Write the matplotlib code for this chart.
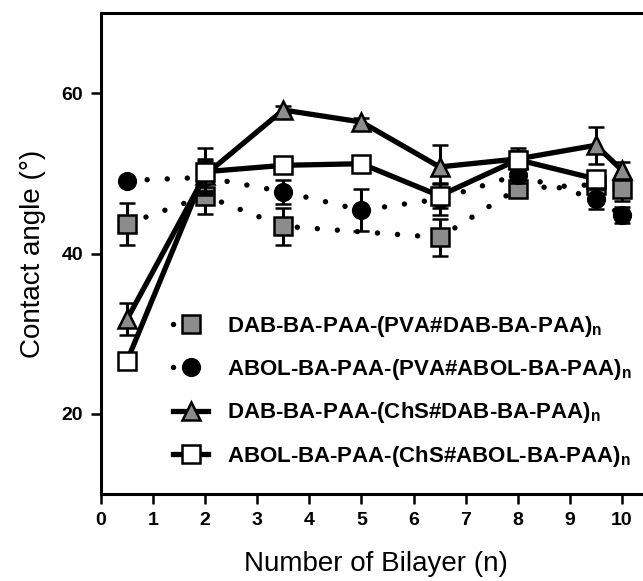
import matplotlib
matplotlib.use('Agg')
import matplotlib.pyplot as plt
from matplotlib.lines import Line2D

# ---- data ----
dab_pva_x = [0.5, 2, 3.5, 6.5, 8, 9.5, 10]
dab_pva_y = [43.7, 47.2, 43.4, 42.0, 48.1, 48.6, 48.0]
dab_pva_err = [2.6, 2.3, 2.3, 2.3, 1.0, 1.0, 1.5]

abol_pva_x = [0.5, 2, 3.5, 5, 6.5, 8, 9.5, 10]
abol_pva_y = [49.1, 49.5, 47.7, 45.4, 46.8, 49.8, 46.8, 44.8]
abol_pva_err = [0.0, 2.0, 1.5, 2.6, 2.0, 1.0, 1.2, 1.0]

dab_chs_x = [0.5, 2, 3.5, 5, 6.5, 8, 9.5, 10]
dab_chs_y = [31.8, 49.8, 57.9, 56.4, 50.8, 51.8, 53.5, 50.4]
dab_chs_err = [2.0, 2.0, 0.5, 0.5, 2.7, 1.0, 2.3, 1.0]

abol_chs_x = [0.5, 2, 3.5, 5, 6.5, 8, 9.5]
abol_chs_y = [26.6, 50.2, 51.0, 51.2, 47.2, 51.7, 49.3]
abol_chs_err = [0.0, 2.9, 1.0, 0.5, 1.5, 1.5, 1.0]

labels = [r'DAB-BA-PAA-(PVA#DAB-BA-PAA)$_\mathregular{n}$',
          r'ABOL-BA-PAA-(PVA#ABOL-BA-PAA)$_\mathregular{n}$',
          r'DAB-BA-PAA-(ChS#DAB-BA-PAA)$_\mathregular{n}$',
          r'ABOL-BA-PAA-(ChS#ABOL-BA-PAA)$_\mathregular{n}$']
xticks = list(range(0, 11))
yticks = [20, 40, 60]

plt.rcParams['font.family'] = ['Liberation Sans', 'DejaVu Sans']
plt.rcParams['mathtext.fontset'] = 'custom'
plt.rcParams['mathtext.rm'] = 'Liberation Sans:bold'

fig = plt.figure(figsize=(6.43, 5.81), dpi=100)
ax = fig.add_axes([101/643, 87/581, 573/643, 481/581])

dot_style = (0, (0.01, 3.7))
gray = '#8c8c8c'
mk = dict(mec='black', mew=1.8)
eb = dict(elinewidth=2.2, capsize=6, capthick=2.2)

# gray squares, dotted
ax.errorbar(dab_pva_x, dab_pva_y, yerr=dab_pva_err, fmt='s', color='black',
            mfc=gray, ms=12.5, zorder=3, **mk, **eb)
ax.plot(dab_pva_x, dab_pva_y, color='black', lw=3.9, linestyle=dot_style,
        dash_capstyle='round', zorder=2.5)

# black circles, dotted
ax.errorbar(abol_pva_x, abol_pva_y, yerr=abol_pva_err, fmt='o', color='black',
            mfc='black', ms=12, zorder=4, **mk, **eb)
ax.plot(abol_pva_x, abol_pva_y, color='black', lw=3.9, linestyle=dot_style,
        dash_capstyle='round', zorder=3.5)

# gray triangles, solid
ax.errorbar(dab_chs_x, dab_chs_y, yerr=dab_chs_err, fmt='^-', color='black',
            mfc=gray, ms=13, lw=3.8, zorder=5, **mk, **eb)

# white squares, solid
ax.errorbar(abol_chs_x, abol_chs_y, yerr=abol_chs_err, fmt='s-', color='black',
            mfc='white', ms=12.5, lw=3.8, zorder=6, **mk, **eb)

ax.set_xlim(0, 11)
ax.set_ylim(10, 70)
ax.set_xticks(xticks)
ax.set_yticks(yticks)
ax.set_xticklabels([str(t) for t in xticks], fontweight='bold', fontsize=14)
ax.set_yticklabels([str(t) for t in yticks], fontweight='bold', fontsize=14)
ax.tick_params(direction='out', length=7, width=1.8, pad=6)

for s in ['left', 'bottom', 'top']:
    ax.spines[s].set_linewidth(2.2)
ax.spines['right'].set_visible(False)

ax.set_xlabel('Number of Bilayer (n)', fontsize=20)
ax.xaxis.set_label_coords((376 - 101) / 573, -0.118)
ax.set_ylabel('Contact angle (°)', fontsize=20, labelpad=11)

handles = [
    Line2D([], [], color='black', lw=3.9, linestyle=dot_style,
           dash_capstyle='round', marker='s', mfc=gray, ms=12.5, **mk),
    Line2D([], [], color='black', lw=3.9, linestyle=dot_style,
           dash_capstyle='round', marker='o', mfc='black', ms=12, **mk),
    Line2D([], [], color='black', lw=3.8, marker='^', mfc=gray, ms=13, **mk),
    Line2D([], [], color='black', lw=3.8, marker='s', mfc='white',
           ms=12.5, **mk),
]
leg = ax.legend(handles, labels, loc='upper left',
                bbox_to_anchor=(63/573, 1 - 292/481), frameon=False,
                prop={'size': 16.0, 'weight': 'bold'}, handlelength=1.6,
                handletextpad=0.85, labelspacing=0.82, borderaxespad=0)

fig.savefig('out.png', dpi=100)
